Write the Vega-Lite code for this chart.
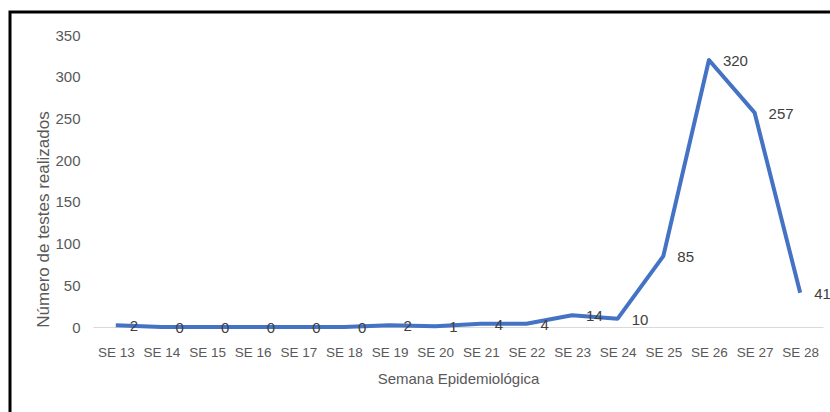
{
  "$schema": "https://vega.github.io/schema/vega-lite/v6.json",
  "autosize": "none",
  "padding": {"left": 10, "top": 12, "right": -3, "bottom": -3},
  "width": 823,
  "height": 403,
  "background": "white",
  "config": {
    "view": {"stroke": "black", "strokeWidth": 3},
    "font": "Liberation Sans Narrow, Liberation Sans, sans-serif"
  },
  "data": {
    "values": [
      {"semana": "SE 13", "testes": 2},
      {"semana": "SE 14", "testes": 0},
      {"semana": "SE 15", "testes": 0},
      {"semana": "SE 16", "testes": 0},
      {"semana": "SE 17", "testes": 0},
      {"semana": "SE 18", "testes": 0},
      {"semana": "SE 19", "testes": 2},
      {"semana": "SE 20", "testes": 1},
      {"semana": "SE 21", "testes": 4},
      {"semana": "SE 22", "testes": 4},
      {"semana": "SE 23", "testes": 14},
      {"semana": "SE 24", "testes": 10},
      {"semana": "SE 25", "testes": 85},
      {"semana": "SE 26", "testes": 320},
      {"semana": "SE 27", "testes": 257},
      {"semana": "SE 28", "testes": 41}
    ]
  },
  "encoding": {
    "x": {
      "field": "semana",
      "type": "ordinal",
      "sort": null,
      "scale": {"type": "point", "range": [83, 813], "padding": 0.5},
      "axis": {
        "title": "Semana Epidemiológica",
        "offset": -88,
        "labelAngle": 0,
        "ticks": false,
        "tickSize": 0,
        "labelPadding": 18,
        "labelFontSize": 13.5,
        "labelColor": "#595959",
        "domainColor": "#d9d9d9",
        "domainWidth": 1,
        "titleFontSize": 15,
        "titleFontWeight": "normal",
        "titleColor": "#595959",
        "titlePadding": 13
      }
    },
    "y": {
      "field": "testes",
      "type": "quantitative",
      "scale": {"domain": [0, 350], "range": [315, 23], "nice": false},
      "axis": {
        "title": "Número de testes realizados",
        "offset": -76,
        "values": [0, 50, 100, 150, 200, 250, 300, 350],
        "grid": false,
        "domain": false,
        "ticks": false,
        "tickSize": 0,
        "labelPadding": 6,
        "labelFontSize": 15,
        "labelColor": "#595959",
        "titleFontSize": 17,
        "titleFontWeight": "normal",
        "titleColor": "#595959",
        "titleX": -43,
        "titleY": 207,
        "titleBaseline": "middle",
        "titleAlign": "center"
      }
    }
  },
  "layer": [
    {
      "mark": {"type": "line", "color": "#4472C4", "strokeWidth": 4, "strokeJoin": "round"}
    },
    {
      "mark": {"type": "text", "align": "left", "baseline": "middle", "dx": 14, "dy": 1, "fontSize": 15, "color": "#404040"},
      "encoding": {"text": {"field": "testes", "type": "quantitative"}}
    }
  ]
}
